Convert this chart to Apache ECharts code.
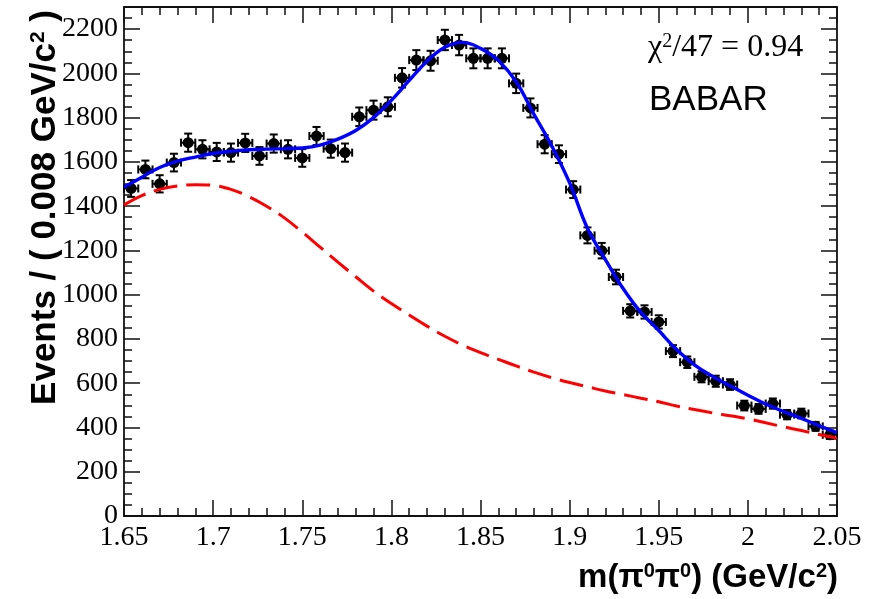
<!DOCTYPE html>
<html><head><meta charset="utf-8">
<script src="https://cdn.jsdelivr.net/npm/echarts@6/dist/echarts.min.js"></script>
<style>html,body{margin:0;padding:0;background:#fff}#c{width:877px;height:599px}</style>
</head><body><div id="c"></div>
<script>
// Data points: bin centres (GeV/c^2), events per bin, vertical errors
const binCenters = [1.654,1.662,1.670,1.678,1.686,1.694,1.702,1.710,1.718,1.726,1.734,1.742,1.750,1.758,1.766,1.774,1.782,1.790,1.798,1.806,1.814,1.822,1.830,1.838,1.846,1.854,1.862,1.870,1.878,1.886,1.894,1.902,1.910,1.918,1.926,1.934,1.942,1.950,1.958,1.966,1.974,1.982,1.990,1.998,2.006,2.014,2.022,2.030,2.038,2.046];
const events = [1480,1566,1501,1597,1687,1657,1645,1642,1686,1627,1683,1657,1618,1717,1660,1642,1804,1834,1849,1980,2060,2057,2151,2128,2068,2068,2068,1955,1844,1680,1635,1475,1268,1199,1080,927,922,877,745,695,629,609,594,499,484,508,458,463,405,367];
const eventErr = [38,40,39,40,41,41,41,41,41,40,41,41,40,41,41,41,42,43,43,44,45,45,46,46,45,45,45,44,43,41,40,38,36,35,33,30,30,30,27,26,25,25,24,22,22,23,21,22,20,19];
const binHalfWidth = 0.004;

// Fit curves sampled along the mass axis
const curveX = [1.65,1.66,1.67,1.68,1.69,1.70,1.71,1.72,1.73,1.74,1.75,1.76,1.77,1.78,1.79,1.80,1.81,1.82,1.83,1.84,1.85,1.86,1.87,1.88,1.89,1.90,1.91,1.92,1.93,1.94,1.95,1.96,1.97,1.98,1.99,2.00,2.01,2.02,2.03,2.04,2.05];
const totalFit = [1486,1531,1575,1604,1622,1638,1648,1655,1658,1660,1663,1676,1703,1742,1800,1878,1968,2055,2118,2140,2113,2058,1962,1815,1672,1505,1300,1160,1028,920,838,752,683,632,588,546,506,472,441,408,377];
const background = [1406,1448,1476,1491,1497,1494,1476,1443,1400,1347,1283,1215,1147,1081,1016,960,908,858,812,772,738,708,678,650,625,603,584,565,549,532,516,497,481,466,453,439,421,403,386,368,352];

const xTicks = {min:1.65, max:2.05, interval:0.05};
const yTicks = {min:0, max:2300, interval:200, minor:50};

const pts = binCenters.map((x,i)=>[x, events[i], eventErr[i]]);
const blue = curveX.map((x,i)=>[x, totalFit[i]]);
const red = curveX.map((x,i)=>[x, background[i]]);

function renderItem(params, api){
  const x = api.value(0), y = api.value(1), e = api.value(2);
  const c = api.coord([x,y]);
  const t = api.coord([x,y+e]);
  const b = api.coord([x,y-e]);
  const l = api.coord([x-binHalfWidth,y]);
  const r = api.coord([x+binHalfWidth,y]);
  const cap = 4;
  const st = {stroke:'#000', lineWidth:2, fill:null};
  return {type:'group', children:[
    {type:'line', shape:{x1:c[0],y1:t[1],x2:c[0],y2:b[1]}, style:st},
    {type:'line', shape:{x1:c[0]-cap,y1:t[1],x2:c[0]+cap,y2:t[1]}, style:st},
    {type:'line', shape:{x1:c[0]-cap,y1:b[1],x2:c[0]+cap,y2:b[1]}, style:st},
    {type:'line', shape:{x1:l[0],y1:c[1],x2:r[0],y2:c[1]}, style:st},
    {type:'line', shape:{x1:l[0],y1:c[1]-cap,x2:l[0],y2:c[1]+cap}, style:st},
    {type:'line', shape:{x1:r[0],y1:c[1]-cap,x2:r[0],y2:c[1]+cap}, style:st},
    {type:'circle', shape:{cx:c[0],cy:c[1],r:5.5}, style:{fill:'#000'}}
  ]};
}

const lineCol = '#111';
const serif = 'Liberation Serif';
function xAxisBase(pos, showLabels){
  return {type:'value', position:pos, min:xTicks.min, max:xTicks.max, interval:xTicks.interval,
    axisLine:{show:true, onZero:false, lineStyle:{color:lineCol, width:1.8}},
    axisTick:{show:true, inside:true, length:16, lineStyle:{color:lineCol, width:1.5}},
    minorTick:{show:true, splitNumber:5, length:8, lineStyle:{color:lineCol, width:1.5}},
    splitLine:{show:false}, minorSplitLine:{show:false},
    axisLabel:{show:showLabels, margin:8, color:'#000', fontFamily:serif, fontSize:28,
      formatter:v=>String(+v.toFixed(2))}};
}
function yAxisMajor(pos, showLabels){
  return {type:'value', position:pos, min:yTicks.min, max:yTicks.max, interval:yTicks.interval,
    axisLine:{show:true, onZero:false, lineStyle:{color:lineCol, width:1.8}},
    axisTick:{show:true, inside:true, length:16, lineStyle:{color:lineCol, width:1.5}},
    splitLine:{show:false},
    axisLabel:{show:showLabels, margin:6, color:'#000', fontFamily:serif, fontSize:28,
      formatter:v=> v>2250 ? '' : String(v)}};
}
function yAxisMinor(pos){
  return {type:'value', position:pos, min:yTicks.min, max:yTicks.max, interval:yTicks.minor,
    axisLine:{show:false},
    axisTick:{show:true, inside:true, length:8, lineStyle:{color:lineCol, width:1.5}},
    splitLine:{show:false}, axisLabel:{show:false}};
}

const chart = echarts.init(document.getElementById('c'), null, {renderer:'canvas'});
chart.setOption({
  animation:false,
  backgroundColor:'#fff',
  grid:{left:124, right:40, top:7, bottom:83, containLabel:false},
  xAxis:[xAxisBase('bottom', true), xAxisBase('top', false)],
  yAxis:[yAxisMajor('left', true), yAxisMinor('left'), yAxisMajor('right', false), yAxisMinor('right')],
  series:[
    {type:'custom', name:'data', renderItem:renderItem, data:pts, encode:{x:0,y:1}, xAxisIndex:0, yAxisIndex:0, z:2},
    {type:'line', name:'background', data:red, xAxisIndex:0, yAxisIndex:0, smooth:0.4, showSymbol:false,
      lineStyle:{color:'#ff0000', width:3, type:[24,9]}, z:3},
    {type:'line', name:'total', data:blue, xAxisIndex:0, yAxisIndex:0, smooth:0.4, showSymbol:false,
      lineStyle:{color:'#0000ff', width:3.4}, z:4}
  ],
  graphic:[
    {type:'text', x:45, y:10, rotation:Math.PI/2, z:10,
      style:{text:'{a|Events / ( 0.008 GeV/c}{s|2}{a| )}', align:'right', verticalAlign:'middle',
        rich:{a:{fontFamily:'Liberation Sans', fontWeight:'bold', fontSize:35, fill:'#000'},
              s:{fontFamily:'Liberation Sans', fontWeight:'bold', fontSize:21, fill:'#000', verticalAlign:'top'}}}},
    {type:'text', x:838, y:578, z:10,
      style:{text:'{a|m(π}{s|0}{a|π}{s|0}{a|) (GeV/c}{s|2}{a|)}', align:'right', verticalAlign:'middle',
        rich:{a:{fontFamily:'Liberation Sans', fontWeight:'bold', fontSize:33, fill:'#000'},
              s:{fontFamily:'Liberation Sans', fontWeight:'bold', fontSize:20, fill:'#000', verticalAlign:'top'}}}},
    {type:'text', x:648, y:48, z:10,
      style:{text:'{a|χ}{s|2}{a|/47 = 0.94}', align:'left', verticalAlign:'middle',
        rich:{a:{fontFamily:serif, fontSize:32, fill:'#000'},
              s:{fontFamily:serif, fontSize:20, fill:'#000', verticalAlign:'top'}}}},
    {type:'text', x:649, y:100, z:10,
      style:{text:'BABAR', align:'left', verticalAlign:'middle', fontFamily:'Liberation Sans', fontSize:35, fill:'#000'}}
  ]
});
</script>
</body></html>
